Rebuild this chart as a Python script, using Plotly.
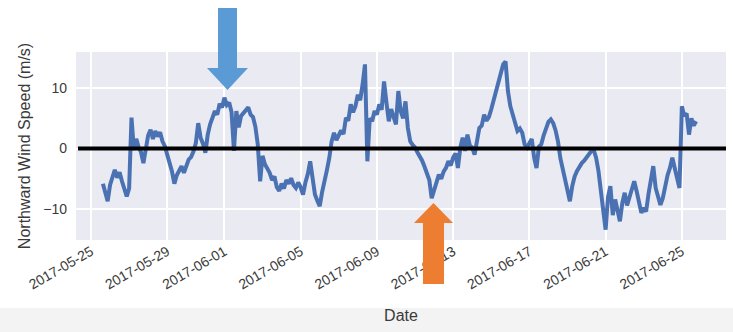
import pandas as pd
import plotly.graph_objects as go

# Northward wind speed (m/s), 3-hourly, starting 2017-05-25 15:00
start_time = "2017-05-25 15:00"
wind_may25 = [-5.8, -7.0, -8.7]
wind_may26 = [-6.0, -4.6, -3.5, -4.8, -3.9, -5.4, -6.5, -7.9]
wind_may27 = [-6.6, 5.1, -0.2, 1.6, 0.2, -0.6, -2.4, 0.3]
wind_may28 = [2.2, 3.1, 1.6, 2.9, 2.0, 2.7, 1.2, 0.4]
wind_may29 = [-0.8, -2.4, -3.8, -5.8, -4.4, -3.5, -2.9, -4.0]
wind_may30 = [-3.0, -1.8, -1.4, -0.5, 0.9, 4.2, 1.8, 0.8]
wind_may31 = [-0.7, 2.3, 4.0, 5.4, 6.2, 5.6, 7.4, 6.8]
wind_jun01 = [8.4, 7.2, 7.6, 6.0, -0.4, 6.2, 3.5, 5.4]
wind_jun02 = [5.9, 6.4, 6.8, 5.6, 5.2, 3.6, 0.7, -5.4]
wind_jun03 = [-1.2, -2.6, -3.4, -4.0, -5.2, -4.6, -6.4, -7.0]
wind_jun04 = [-5.8, -6.6, -5.2, -5.8, -4.9, -6.0, -6.5, -5.6]
wind_jun05 = [-6.4, -7.6, -5.6, -4.2, -2.1, -5.0, -7.6, -8.6]
wind_jun06 = [-9.5, -7.2, -5.0, -3.6, -1.6, 1.2, 2.6, 1.4]
wind_jun07 = [2.2, 3.0, 2.4, 5.1, 4.6, 7.3, 6.0, 7.0]
wind_jun08 = [8.9, 8.0, 10.6, 13.9, -2.1, 5.0, 4.5, 6.2]
wind_jun09 = [5.6, 7.3, 6.4, 11.1, 7.6, 4.5, 6.5, 5.0]
wind_jun10 = [4.0, 9.5, 6.2, 5.0, 7.8, 3.4, 1.2, 0.6]
wind_jun11 = [0.2, -0.6, -1.2, -2.0, -3.0, -4.0, -5.2, -8.2]
wind_jun12 = [-7.0, -5.6, -4.3, -5.0, -3.8, -3.2, -2.1, -2.8]
wind_jun13 = [-1.5, -0.8, -3.2, 0.1, 1.8, -0.4, 2.3, 0.5]
wind_jun14 = [0.2, -1.0, 1.4, 3.4, 3.8, 5.6, 4.6, 5.2]
wind_jun15 = [6.5, 8.0, 9.5, 11.0, 12.6, 13.9, 14.4, 9.5]
wind_jun16 = [7.0, 5.6, 4.5, 2.9, 3.3, 2.6, 0.7, 0.2]
wind_jun17 = [0.9, 1.6, -1.5, -3.2, 0.3, 0.7, 2.2, 3.4]
wind_jun18 = [4.4, 4.8, 4.2, 3.0, 1.2, -1.6, -3.4, -5.4]
wind_jun19 = [-7.6, -8.7, -6.2, -4.6, -3.7, -3.0, -2.4, -2.0]
wind_jun20 = [-1.4, -0.9, -0.4, -0.2, -1.5, -3.7, -7.6, -10.2]
wind_jun21 = [-13.4, -8.0, -6.2, -11.0, -8.4, -10.0, -12.0, -9.0]
wind_jun22 = [-7.3, -9.4, -8.2, -7.0, -5.4, -7.0, -9.0, -10.6]
wind_jun23 = [-9.8, -10.4, -7.5, -5.2, -2.9, -6.5, -7.8, -9.3]
wind_jun24 = [-8.2, -6.0, -4.4, -3.2, -1.5, -3.2, -4.6, -6.5]
wind_jun25 = [7.0, 5.4, 5.8, 2.3, 5.0, 3.8, 4.5]

wind_speed = (wind_may25 + wind_may26 + wind_may27 + wind_may28 + wind_may29
              + wind_may30 + wind_may31 + wind_jun01 + wind_jun02 + wind_jun03
              + wind_jun04 + wind_jun05 + wind_jun06 + wind_jun07 + wind_jun08
              + wind_jun09 + wind_jun10 + wind_jun11 + wind_jun12 + wind_jun13
              + wind_jun14 + wind_jun15 + wind_jun16 + wind_jun17 + wind_jun18
              + wind_jun19 + wind_jun20 + wind_jun21 + wind_jun22 + wind_jun23
              + wind_jun24 + wind_jun25)
times = pd.date_range(start_time, periods=len(wind_speed), freq="3h")

date_ticks = ["2017-05-25", "2017-05-29", "2017-06-01", "2017-06-05", "2017-06-09",
              "2017-06-13", "2017-06-17", "2017-06-21", "2017-06-25"]
speed_ticks = [-10, 0, 10]

W, H = 733, 332
L, R, T, B = 76, 7, 52, 92
pw, ph = W - L - R, H - T - B


def px(x):
    return (x - L) / pw


def py(y):
    return (H - B - y) / ph


def arrow_path(points):
    return "M " + " L ".join(f"{px(x):.4f},{py(y):.4f}" for x, y in points) + " Z"


fig = go.Figure()
fig.add_trace(go.Scatter(
    x=times, y=wind_speed, mode="lines",
    line=dict(color="#4A72B3", width=4),
    showlegend=False,
))

shapes = [
    # light strip at the bottom of the page
    dict(type="rect", xref="paper", yref="paper", x0=px(-10), x1=px(W + 10),
         y0=py(308), y1=py(H + 10), fillcolor="#F3F3F3", line_width=0, layer="below"),
    # zero reference line
    dict(type="line", xref="paper", yref="y", x0=px(78), x1=1.0, y0=0, y1=0,
         line=dict(color="black", width=4), layer="above"),
    # blue arrow pointing down at the early-June peak
    dict(type="path", xref="paper", yref="paper",
         path=arrow_path([(218, 8), (237, 8), (237, 68), (248, 68), (227.5, 90),
                          (207, 68), (218, 68)]),
         fillcolor="#5B9BD5", line_width=0, layer="above"),
    # orange arrow pointing up at the mid-June trough
    dict(type="path", xref="paper", yref="paper",
         path=arrow_path([(423, 284), (444, 284), (444, 223), (453, 223), (433.5, 203),
                          (414, 223), (423, 223)]),
         fillcolor="#ED7D31", line_width=0, layer="above"),
]

fig.update_layout(
    width=W, height=H,
    margin=dict(l=L, r=R, t=T, b=B),
    paper_bgcolor="white",
    plot_bgcolor="#EAEAF2",
    font=dict(family="Liberation Sans, Arial, sans-serif", color="#3a3a3a", size=14),
    shapes=shapes,
)
fig.update_xaxes(
    range=["2017-05-24 05:07", "2017-06-27 07:35"],
    tickvals=date_ticks, ticktext=date_ticks, tickangle=-30,
    showgrid=True, gridcolor="white", gridwidth=1.5,
    zeroline=False, showline=False, ticks="",
    tickfont=dict(size=14),
    title=dict(text="Date", font=dict(size=16), standoff=18),
)
fig.update_yaxes(
    range=[-15.1, 15.95],
    tickvals=speed_ticks,
    showgrid=True, gridcolor="white", gridwidth=1.5,
    zeroline=False, showline=False, ticks="",
    tickfont=dict(size=14), ticklabelstandoff=8,
    title=dict(text="Northward Wind Speed (m/s)", font=dict(size=16), standoff=8),
)

fig.write_html("out.html")
